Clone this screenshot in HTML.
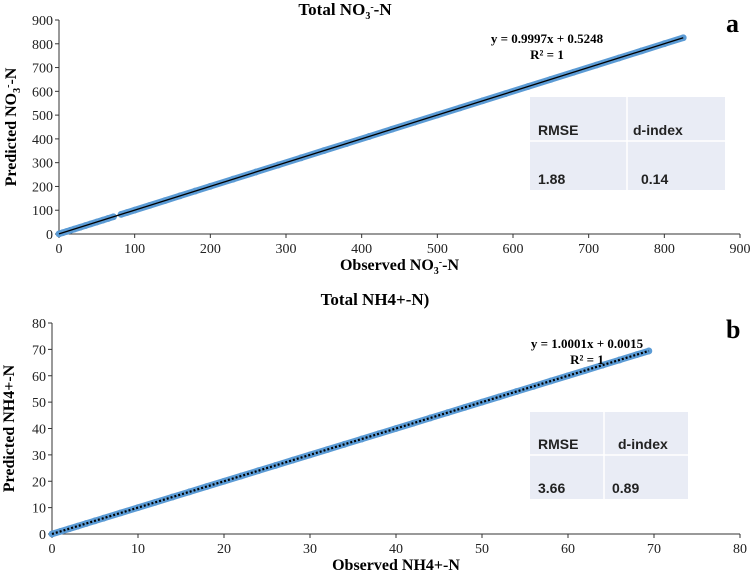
<!DOCTYPE html>
<html><head><meta charset="utf-8"><style>
body{margin:0;background:#fff;width:751px;height:576px;overflow:hidden}
svg text{font-family:"Liberation Serif",serif}
</style></head><body>
<svg id="s" width="751" height="576">
</svg>
<script>
// Panel a data
const aObserved=[0,5,10,15,20,28,35,42,50,58,65,72,82,90,100,120,140,160,180,200,230,260,290,320,350,380,410,440,470,500,530,560,590,620,650,680,710,740,770,800,825];
const aPredicted=[0.5,5.5,10.5,15.5,20.5,28.5,35.5,42.5,50.5,58.5,65.5,72.5,82.5,90.5,100.5,120.5,140.5,160.5,180.5,200.5,230.5,260.5,290.5,320.5,350.5,380.4,410.4,440.4,470.4,500.4,530.4,560.4,590.4,620.3,650.3,680.3,710.3,740.3,770.3,800.3,825.3];
const aSlope=0.9997, aIntercept=0.5248;
const aTicks=[0,100,200,300,400,500,600,700,800,900];
// Panel b data
const bObserved=[0,1,2,3,4,5,6,8,10,12,14,16,18,20,22,24,26,28,30,32,34,36,38,40,42,44,46,48,50,52,54,56,58,60,62,64,66,68,69.4];
const bPredicted=[0,1,2,3,4,5,6,8,10,12,14,16,18,20,22,24,26,28,30,32,34,36,38,40,42,44,46,48,50,52,54,56,58,60,62,64,66,68,69.4];
const bSlope=1.0001, bIntercept=0.0015;
const bTicks=[0,10,20,30,40,50,60,70,80];

const NS="http://www.w3.org/2000/svg", svg=document.getElementById('s');
function el(t,a,txt){const e=document.createElementNS(NS,t);for(const k in a)e.setAttribute(k,a[k]);if(txt!=null)e.textContent=txt;svg.appendChild(e);return e;}
function rich(a,html){const e=el('text',a);e.innerHTML=html;return e;}

function panel(p){
  const sx=v=>p.x0+(v-p.min)/(p.max-p.min)*(p.x1-p.x0);
  const sy=v=>p.y0-(v-p.min)/(p.max-p.min)*(p.y0-p.y1);
  const tb=el('rect',{x:p.tx,y:p.ty,width:p.tw,height:p.th,fill:'#e9ecf5'});
  
  
  el('line',{x1:p.tdx,y1:p.ty,x2:p.tdx,y2:p.ty+p.th,stroke:'#fff','stroke-width':1.5});
  el('line',{x1:p.tx,y1:p.thy,x2:p.tx+p.tw,y2:p.thy,stroke:'#fff','stroke-width':1.5});
  const f='font-family:"Liberation Sans",sans-serif;font-weight:bold;font-size:14px;fill:#222';
  el('text',{x:p.tx+8,y:p.thy-6,style:f},'RMSE');
  el('text',{x:p.tdx+p.dOff,y:p.thy-6,style:f},'d-index');
  el('text',{x:p.tx+8,y:p.ty+p.th-6,style:f},p.rmse);
  el('text',{x:p.tdx+p.vOff,y:p.ty+p.th-6,style:f},p.dval);
  el('line',{x1:p.x0,y1:p.y0,x2:p.x1,y2:p.y0,stroke:'#333','stroke-width':1});
  el('line',{x1:p.x0,y1:p.y0,x2:p.x0,y2:p.y1,stroke:'#333','stroke-width':1});
  p.ticks.forEach(t=>{
    el('line',{x1:sx(t),y1:p.y0,x2:sx(t),y2:p.y0+4,stroke:'#333'});
    el('line',{x1:p.x0-4,y1:sy(t),x2:p.x0,y2:sy(t),stroke:'#333'});
    const xl=el('text',{x:sx(t),y:p.y0+19,'text-anchor':'middle','font-size':14,fill:'#222'},t);
    
    
    const yl=el('text',{x:p.x0-6,y:sy(t)+5,'text-anchor':'end','font-size':14,fill:'#222'},t);
    
    
  });
  let d='';
  p.obs.forEach((o,i)=>{d+=(i===0||(p.gapAt!=null&&o===p.gapAt)?'M':'L')+sx(o)+' '+sy(p.pred[i]);});
  const ln=el('path',{d:d,stroke:'#5b9bd5','stroke-width':6.5,fill:'none','stroke-linecap':'round'});
  
  
  p.obs.forEach((o,i)=>{
    const c=el('circle',{cx:sx(o),cy:sy(p.pred[i]),r:3.4,fill:'#5b9bd5'});
    
    
  });
  const xe=p.obs[p.obs.length-1];
  const tr=el('line',{x1:sx(0),y1:sy(p.b),x2:sx(xe),y2:sy(p.m*xe+p.b),stroke:'#000','stroke-width':p.dotted?2.2:1.3,'stroke-dasharray':p.dotted?'2 2':'none'});
  
  
  rich({x:p.tlx,y:p.tly,'text-anchor':'middle','font-size':17,'font-weight':'bold'},p.title);
  el('text',{x:p.ex,y:p.ey,'text-anchor':'middle','font-size':13,'font-weight':'bold'},p.eq);
  el('text',{x:p.ex,y:p.ey+16,'text-anchor':'middle','font-size':13,'font-weight':'bold'},'R² = 1');
  el('text',{x:p.lx,y:p.ly,'font-size':26,'font-weight':'bold'},p.letter);
  rich({x:(p.x0+p.x1)/2,y:p.y0+36,'text-anchor':'middle','font-size':16,'font-weight':'bold'},p.xlab);
  rich({x:0,y:0,'text-anchor':'middle','font-size':16,'font-weight':'bold',transform:`translate(${p.ylx},${(p.y0+p.y1)/2}) rotate(-90)`},p.ylab);
}
const no3='NO<tspan font-size="10" dy="4">3</tspan><tspan font-size="10" dy="-9">-</tspan><tspan dy="5">-N</tspan>';
panel({id:'panel-a',x0:59,x1:740,y0:234,y1:20,min:0,max:900,ticks:aTicks,obs:aObserved,pred:aPredicted,m:aSlope,b:aIntercept,gapAt:82,
 tx:530,ty:97,tw:195,th:93,tdx:627,thy:141,dOff:6,vOff:14,rmse:'1.88',dval:'0.14',
 title:'Total '+no3,tlx:345,tly:15,eq:'y = 0.9997x + 0.5248',ex:547,ey:43,letter:'a',lx:726,ly:32,xlab:'Observed '+no3,ylab:'Predicted '+no3,ylx:16});
panel({id:'panel-b',x0:52,x1:740,y0:534,y1:323,min:0,max:80,ticks:bTicks,obs:bObserved,pred:bPredicted,m:bSlope,b:bIntercept,dotted:true,
 tx:530,ty:412,tw:158,th:87,tdx:604,thy:455,dOff:14,vOff:8,rmse:'3.66',dval:'0.89',
 title:'Total NH4+-N)',tlx:375,tly:305,eq:'y = 1.0001x + 0.0015',ex:587,ey:348,letter:'b',lx:726,ly:338,xlab:'Observed NH4+-N',ylab:'Predicted NH4+-N',ylx:14});
</script>
</body></html>
